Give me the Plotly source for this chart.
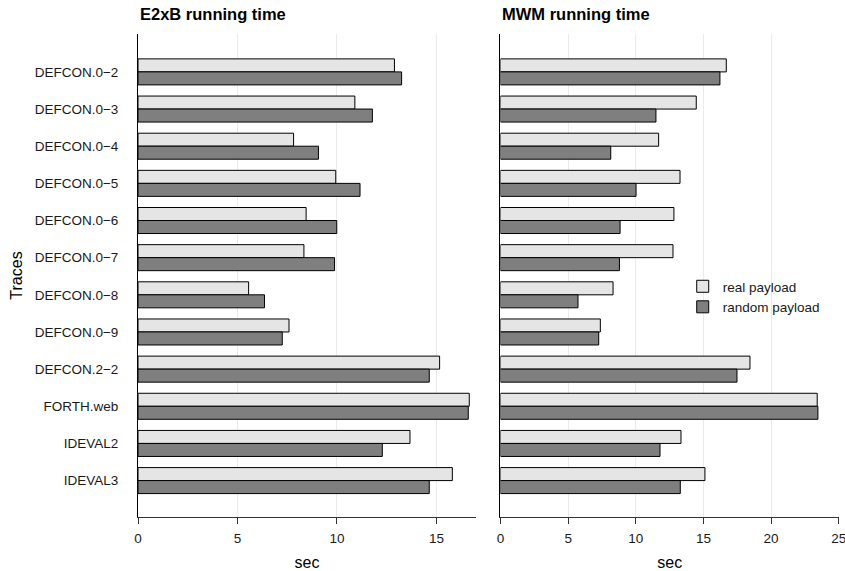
import plotly.graph_objects as go

traces = ["DEFCON.0−2", "DEFCON.0−3", "DEFCON.0−4", "DEFCON.0−5", "DEFCON.0−6",
          "DEFCON.0−7", "DEFCON.0−8", "DEFCON.0−9", "DEFCON.2−2", "FORTH.web",
          "IDEVAL2", "IDEVAL3"]

e2xb_real = [12.89, 10.90, 7.82, 9.94, 8.45, 8.34, 5.56, 7.59, 15.16, 16.65, 13.67, 15.80]
e2xb_random = [13.25, 11.78, 9.07, 11.16, 9.99, 9.88, 6.36, 7.25, 14.64, 16.60, 12.28, 14.64]

mwm_real = [16.69, 14.47, 11.69, 13.27, 12.82, 12.75, 8.32, 7.38, 18.44, 23.41, 13.34, 15.11]
mwm_random = [16.22, 11.49, 8.15, 10.02, 8.84, 8.79, 5.73, 7.26, 17.48, 23.46, 11.79, 13.29]

series_names = ["real payload", "random payload"]
x_ticks_left = [0, 5, 10, 15]
x_ticks_right = [0, 5, 10, 15, 20, 25]

FONT = "Liberation Sans, Arial, Helvetica, sans-serif"
W, H = 845, 571
L, R, T, B = 137.5, 5.5, 34, 54
pw = W - L - R

fig = go.Figure()
colors = ["#e5e5e5", "#7f7f7f"]
for i, (name, vals) in enumerate(zip(series_names, [e2xb_real, e2xb_random])):
    fig.add_trace(go.Bar(x=vals, y=traces, orientation="h", name=name,
                         marker=dict(color=colors[i], line=dict(color="#000000", width=1)),
                         xaxis="x", yaxis="y", legendgroup=name))
for i, (name, vals) in enumerate(zip(series_names, [mwm_real, mwm_random])):
    fig.add_trace(go.Bar(x=vals, y=traces, orientation="h", name=name,
                         marker=dict(color=colors[i], line=dict(color="#000000", width=1)),
                         xaxis="x2", yaxis="y2", legendgroup=name, showlegend=False))

axis_common = dict(showline=True, linecolor="#333333", linewidth=1, ticks="outside",
                   ticklen=6, tickcolor="#333333", showgrid=True, gridcolor="#ebebeb",
                   gridwidth=1, zeroline=False, automargin=False, ticklabelstandoff=3,
                   ticklabeloverflow="allow",
                   tickfont=dict(family=FONT, size=13.5, color="#1a1a1a"))

fig.update_layout(
    width=W, height=H,
    margin=dict(l=L, r=R, t=T, b=B),
    paper_bgcolor="white", plot_bgcolor="white",
    barmode="group", bargap=0.3, bargroupgap=0,
    font=dict(family=FONT, color="#000000"),
    xaxis=dict(domain=[0, (476 - L) / pw], range=[0, 16.99], tickvals=x_ticks_left,
               title=dict(text="sec", font=dict(family=FONT, size=16), standoff=12),
               **axis_common),
    xaxis2=dict(domain=[(500.5 - L) / pw, 1], range=[0, 25.02], tickvals=x_ticks_right,
                title=dict(text="sec", font=dict(family=FONT, size=16), standoff=12),
                **axis_common),
    yaxis=dict(domain=[0, 1], range=[11.98, -1.02], type="category",
               categoryorder="array", categoryarray=traces,
               showline=True, linecolor="#000000", linewidth=1, ticks="",
               showgrid=False, zeroline=False, automargin=False, ticklabelstandoff=16,
               tickfont=dict(family=FONT, size=13.5, color="#1a1a1a"),
               title=dict(text="Traces", font=dict(family=FONT, size=16), standoff=8)),
    yaxis2=dict(domain=[0, 1], anchor="x2", range=[11.98, -1.02], type="category",
                categoryorder="array", categoryarray=traces,
                showline=True, linecolor="#000000", linewidth=1, ticks="",
                showticklabels=False, showgrid=False, zeroline=False, automargin=False),
    legend=dict(x=(697 - L - 14) / pw, y=1 - (271 - T) / (H - T - B), xanchor="left", yanchor="top",
                font=dict(family=FONT, size=13.5, color="#1a1a1a"),
                bgcolor="rgba(0,0,0,0)", traceorder="normal", tracegroupgap=0),
    annotations=[
        dict(text="<b>E2xB running time</b>", xref="paper", yref="paper",
             x=0, y=1 + (T - 14) / (H - T - B), xanchor="left", yanchor="middle",
             showarrow=False, font=dict(family=FONT, size=16.5, color="#000000")),
        dict(text="<b>MWM running time</b>", xref="paper", yref="paper",
             x=(500.5 - L) / pw, y=1 + (T - 14) / (H - T - B), xanchor="left", yanchor="middle",
             showarrow=False, font=dict(family=FONT, size=16.5, color="#000000")),
    ],
)

fig.write_html("out.html", config={"displayModeBar": False},
               post_script="document.body.style.margin='0';document.body.style.padding='0';")
